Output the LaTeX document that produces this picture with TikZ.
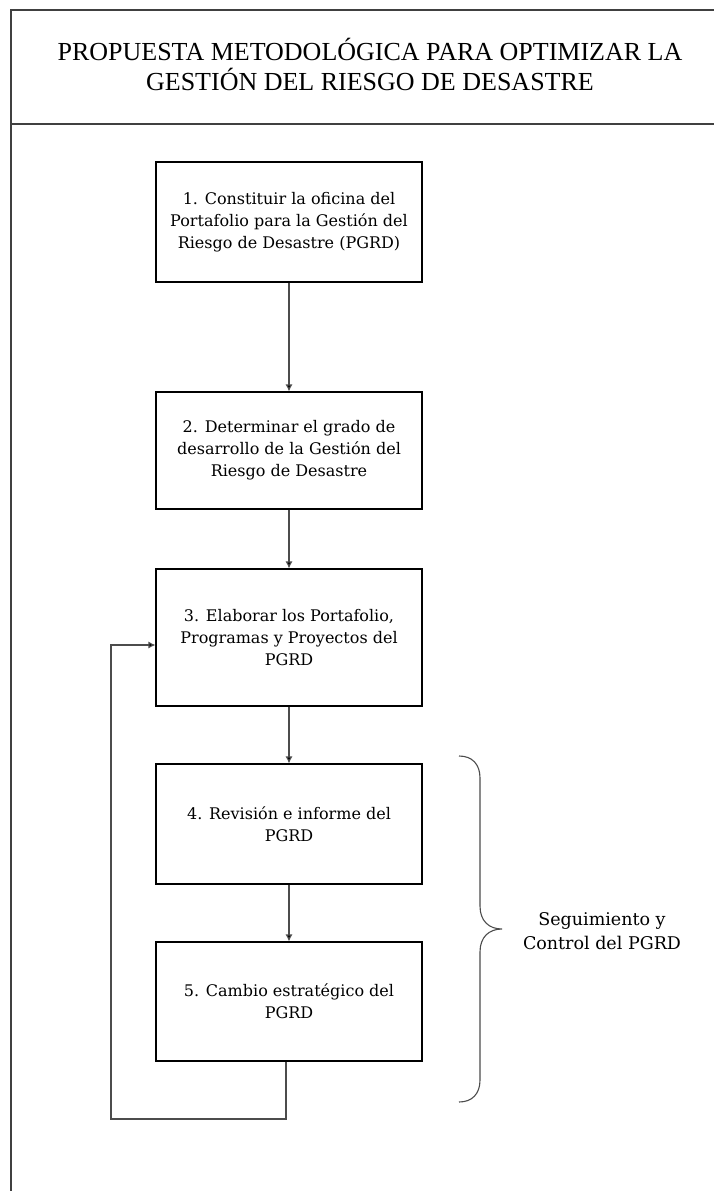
\documentclass[tikz,border=0pt]{standalone}
\usepackage{fontspec}
\setmainfont{DejaVu Serif}
\newfontfamily\titlefont{Liberation Serif}
\usetikzlibrary{arrows.meta}

\begin{document}
\begin{tikzpicture}[x=1pt,y=-1pt,
  frame/.style={draw=black!75, line width=1.4pt},
  stepbox/.style={draw=black, line width=1.1pt, minimum width=266pt, inner sep=0pt,
    align=center, font=\fontsize{16}{22}\selectfont},
  flow/.style={draw=black!70, line width=1.1pt, -{Latex[length=7pt,width=7pt,fill=black]}},
  brace/.style={draw=black!70, line width=1.1pt},
  bracelabel/.style={align=center, font=\fontsize{17.5}{24}\selectfont},
  titletext/.style={align=center, font=\titlefont\fontsize{26}{30}\selectfont}]

  \useasboundingbox (0,0) rectangle (714,1191);
  \clip (0,0) rectangle (714,1191);

  % page frame and title band
  \draw[frame] (11,1200) -- (11,10) -- (720,10);
  \draw[frame] (11,124) -- (720,124);
  \node[titletext] (title) at (370,64) {PROPUESTA METODOLÓGICA PARA OPTIMIZAR LA\\GESTIÓN DEL RIESGO DE DESASTRE};

  % steps
  \node[stepbox, minimum height=120pt] (b1) at (289,222)
    {1. Constituir la oficina del\\Portafolio para la Gestión del\\Riesgo de Desastre (PGRD)};
  \node[stepbox, minimum height=117pt] (b2) at (289,450.5)
    {2. Determinar el grado de\\desarrollo de la Gestión del\\Riesgo de Desastre};
  \node[stepbox, minimum height=137pt] (b3) at (289,637.5)
    {3. Elaborar los Portafolio,\\Programas y Proyectos del\\PGRD};
  \node[stepbox, minimum height=120pt] (b4) at (289,824)
    {4. Revisión e informe del\\PGRD};
  \node[stepbox, minimum height=119pt] (b5) at (289,1001.5)
    {5. Cambio estratégico del\\PGRD};

  % sequence
  \draw[flow] (b1) -- (b2);
  \draw[flow] (b2) -- (b3);
  \draw[flow] (b3) -- (b4);
  \draw[flow] (b4) -- (b5);

  % feedback loop from step 5 back to step 3
  \coordinate (loopr) at (286,1119);
  \coordinate (loopl) at (111,1119);
  \draw[flow] ([xshift=-3pt]b5.south) -- (loopr) -- (loopl) |- ([yshift=-7.5pt]b3.west);

  % brace grouping steps 4 and 5
  \draw[brace] (459,756) .. controls (472,756) and (480,764) .. (480,778)
    -- (480,906) .. controls (480,921) and (489,929) .. (502,929)
    .. controls (489,929) and (480,937) .. (480,952)
    -- (480,1080) .. controls (480,1094) and (472,1102) .. (459,1102);
  \node[bracelabel] (lbl) at (602,931) {Seguimiento y\\Control del PGRD};
\end{tikzpicture}
\end{document}
